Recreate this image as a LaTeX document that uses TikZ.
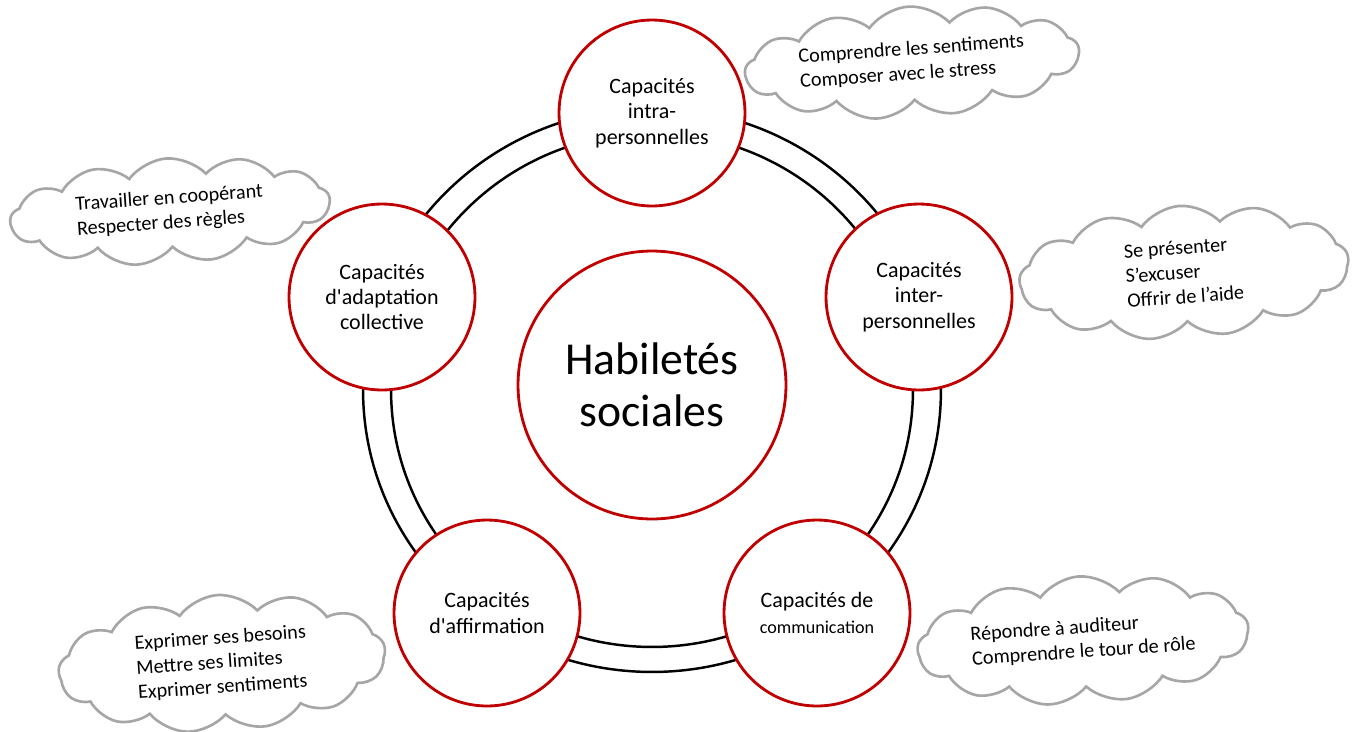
\documentclass[tikz,border=0pt]{standalone}
\usepackage{fontspec}
\setmainfont{Carlito}
\usepackage{tikz}
\usetikzlibrary{positioning,shapes.symbols}
\definecolor{capred}{HTML}{C00000}
\definecolor{cloudgray}{HTML}{A6A6A6}
\tikzset{
    hub/.style = {
        draw=capred,
        fill=white,
        shape=circle,
        minimum size=5.36cm,
        inner sep=0pt,
        line width=1.6pt,
        align=center,
        font=\fontsize{26}{29.5}\selectfont
    },
    skill/.style = {
        draw=capred,
        fill=white,
        shape=circle,
        minimum size=3.72cm,
        inner sep=0pt,
        line width=1.6pt,
        align=center,
        font=\fontsize{12.5}{14.5}\selectfont
    },
    note/.style = {
        draw=cloudgray,
        fill=white,
        shape=cloud,
        cloud puffs=13,
        cloud puff arc=100,
        cloud ignores aspect,
        line width=1.5pt,
        align=left,
        rotate=4,
        font=\fontsize{11.5}{14}\selectfont
    },
    ring/.style = {
        line width=1.4pt
    },
}

\begin{document}
\begin{tikzpicture}[x=0.02cm,y=-0.02cm]
    \useasboundingbox (0,0) rectangle (1355,731);

    % double ring behind the circles
    \coordinate (mid) at (652,390);
    \draw[ring] (mid) ellipse [x radius=5.78cm, y radius=5.64cm];
    \draw[ring] (mid) ellipse [x radius=5.22cm, y radius=5.14cm];

    \node[hub] (social) at (652,385) {Habiletés\\sociales};

    \node[skill] (intra) at (652,113) {Capacités\\intra-\\personnelles};
    \node[skill] (inter) at (919,297) {Capacités\\inter-\\personnelles};
    \node[skill] (comm) at (817,613) {Capacités de\\{\fontsize{10.3}{12}\selectfont communication}};
    \node[skill] (affirm) at (487,613) {Capacités\\d\textquotesingle affirmation};
    \node[skill] (adapt) at (382,297) {Capacités\\d\textquotesingle adaptation\\collective};

    % clouds
    \node[note, minimum width=6.4cm, minimum height=1.95cm] (intranote) at (912,62)
        {Comprendre les sentiments\\Composer avec le stress};
    \node[note, minimum width=6.4cm, minimum height=2.05cm] (adaptnote) at (170,211)
        {Travailler en coopérant\\Respecter des règles};
    \node[note, minimum width=6.6cm, minimum height=2.65cm] (internote) at (1184,272)
        {Se présenter\\S’excuser\\Offrir de l’aide};
    \node[note, minimum width=6.55cm, minimum height=2.5cm] (affirmnote) at (222,663)
        {Exprimer ses besoins\\Mettre ses limites\\Exprimer sentiments};
    \node[note, minimum width=6.5cm, minimum height=2.55cm] (commnote) at (1083,640)
        {Répondre à auditeur\\Comprendre le tour de rôle};
\end{tikzpicture}
\end{document}
